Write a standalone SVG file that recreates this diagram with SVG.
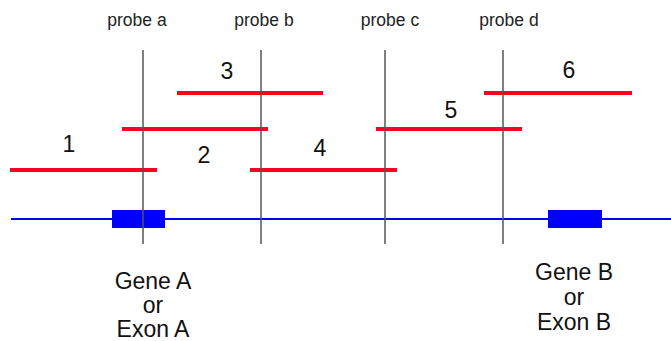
<svg xmlns="http://www.w3.org/2000/svg" width="671" height="341" viewBox="0 0 671 341">
<style>
.probe{stroke:#555;stroke-width:1.5;fill:none}
.read{stroke:#ff0022;stroke-width:4;fill:none}
.gene{stroke:#0000ff;stroke-width:2;fill:none}
.exon{fill:#0000ff}
.pl{font-family:"Liberation Sans",Arial,sans-serif;font-size:17.5px;fill:#222;text-anchor:middle}
.num{font-family:"Liberation Sans",Arial,sans-serif;font-size:23px;fill:#111;text-anchor:middle}
.gl{font-family:"Liberation Sans",Arial,sans-serif;font-size:23px;fill:#111;text-anchor:middle}
</style>
<rect width="671" height="341" fill="#fff"/>
<g id="gene-line">
<line class="gene" x1="11" y1="219" x2="671" y2="219"/>
</g>
<g id="geneA">
<rect class="exon" x="112" y="210" width="53" height="18"/>
<text class="gl" x="153" y="289">Gene A</text>
<text class="gl" x="153" y="313">or</text>
<text class="gl" x="153" y="337">Exon A</text>
</g>
<g id="geneB">
<rect class="exon" x="548" y="210" width="54" height="18"/>
<text class="gl" x="574" y="280">Gene B</text>
<text class="gl" x="574" y="305">or</text>
<text class="gl" x="574" y="330">Exon B</text>
</g>
<g id="read1"><line class="read" x1="10" y1="170" x2="157" y2="170"/><text class="num" x="69" y="152">1</text></g>
<g id="read2"><line class="read" x1="122" y1="129" x2="268" y2="129"/><text class="num" x="204" y="163">2</text></g>
<g id="read3"><line class="read" x1="177" y1="93" x2="323" y2="93"/><text class="num" x="227" y="79">3</text></g>
<g id="read4"><line class="read" x1="250" y1="170" x2="397" y2="170"/><text class="num" x="320" y="156">4</text></g>
<g id="read5"><line class="read" x1="376" y1="129" x2="522" y2="129"/><text class="num" x="451" y="118">5</text></g>
<g id="read6"><line class="read" x1="484" y1="93" x2="632" y2="93"/><text class="num" x="569" y="78">6</text></g>
<g id="probe-a"><line class="probe" x1="143" y1="50" x2="143" y2="244"/><text class="pl" x="137" y="26">probe a</text></g>
<g id="probe-b"><line class="probe" x1="261" y1="50" x2="261" y2="244"/><text class="pl" x="264" y="26">probe b</text></g>
<g id="probe-c"><line class="probe" x1="385" y1="50" x2="385" y2="244"/><text class="pl" x="390" y="26">probe c</text></g>
<g id="probe-d"><line class="probe" x1="503" y1="50" x2="503" y2="244"/><text class="pl" x="509" y="26">probe d</text></g>
</svg>
